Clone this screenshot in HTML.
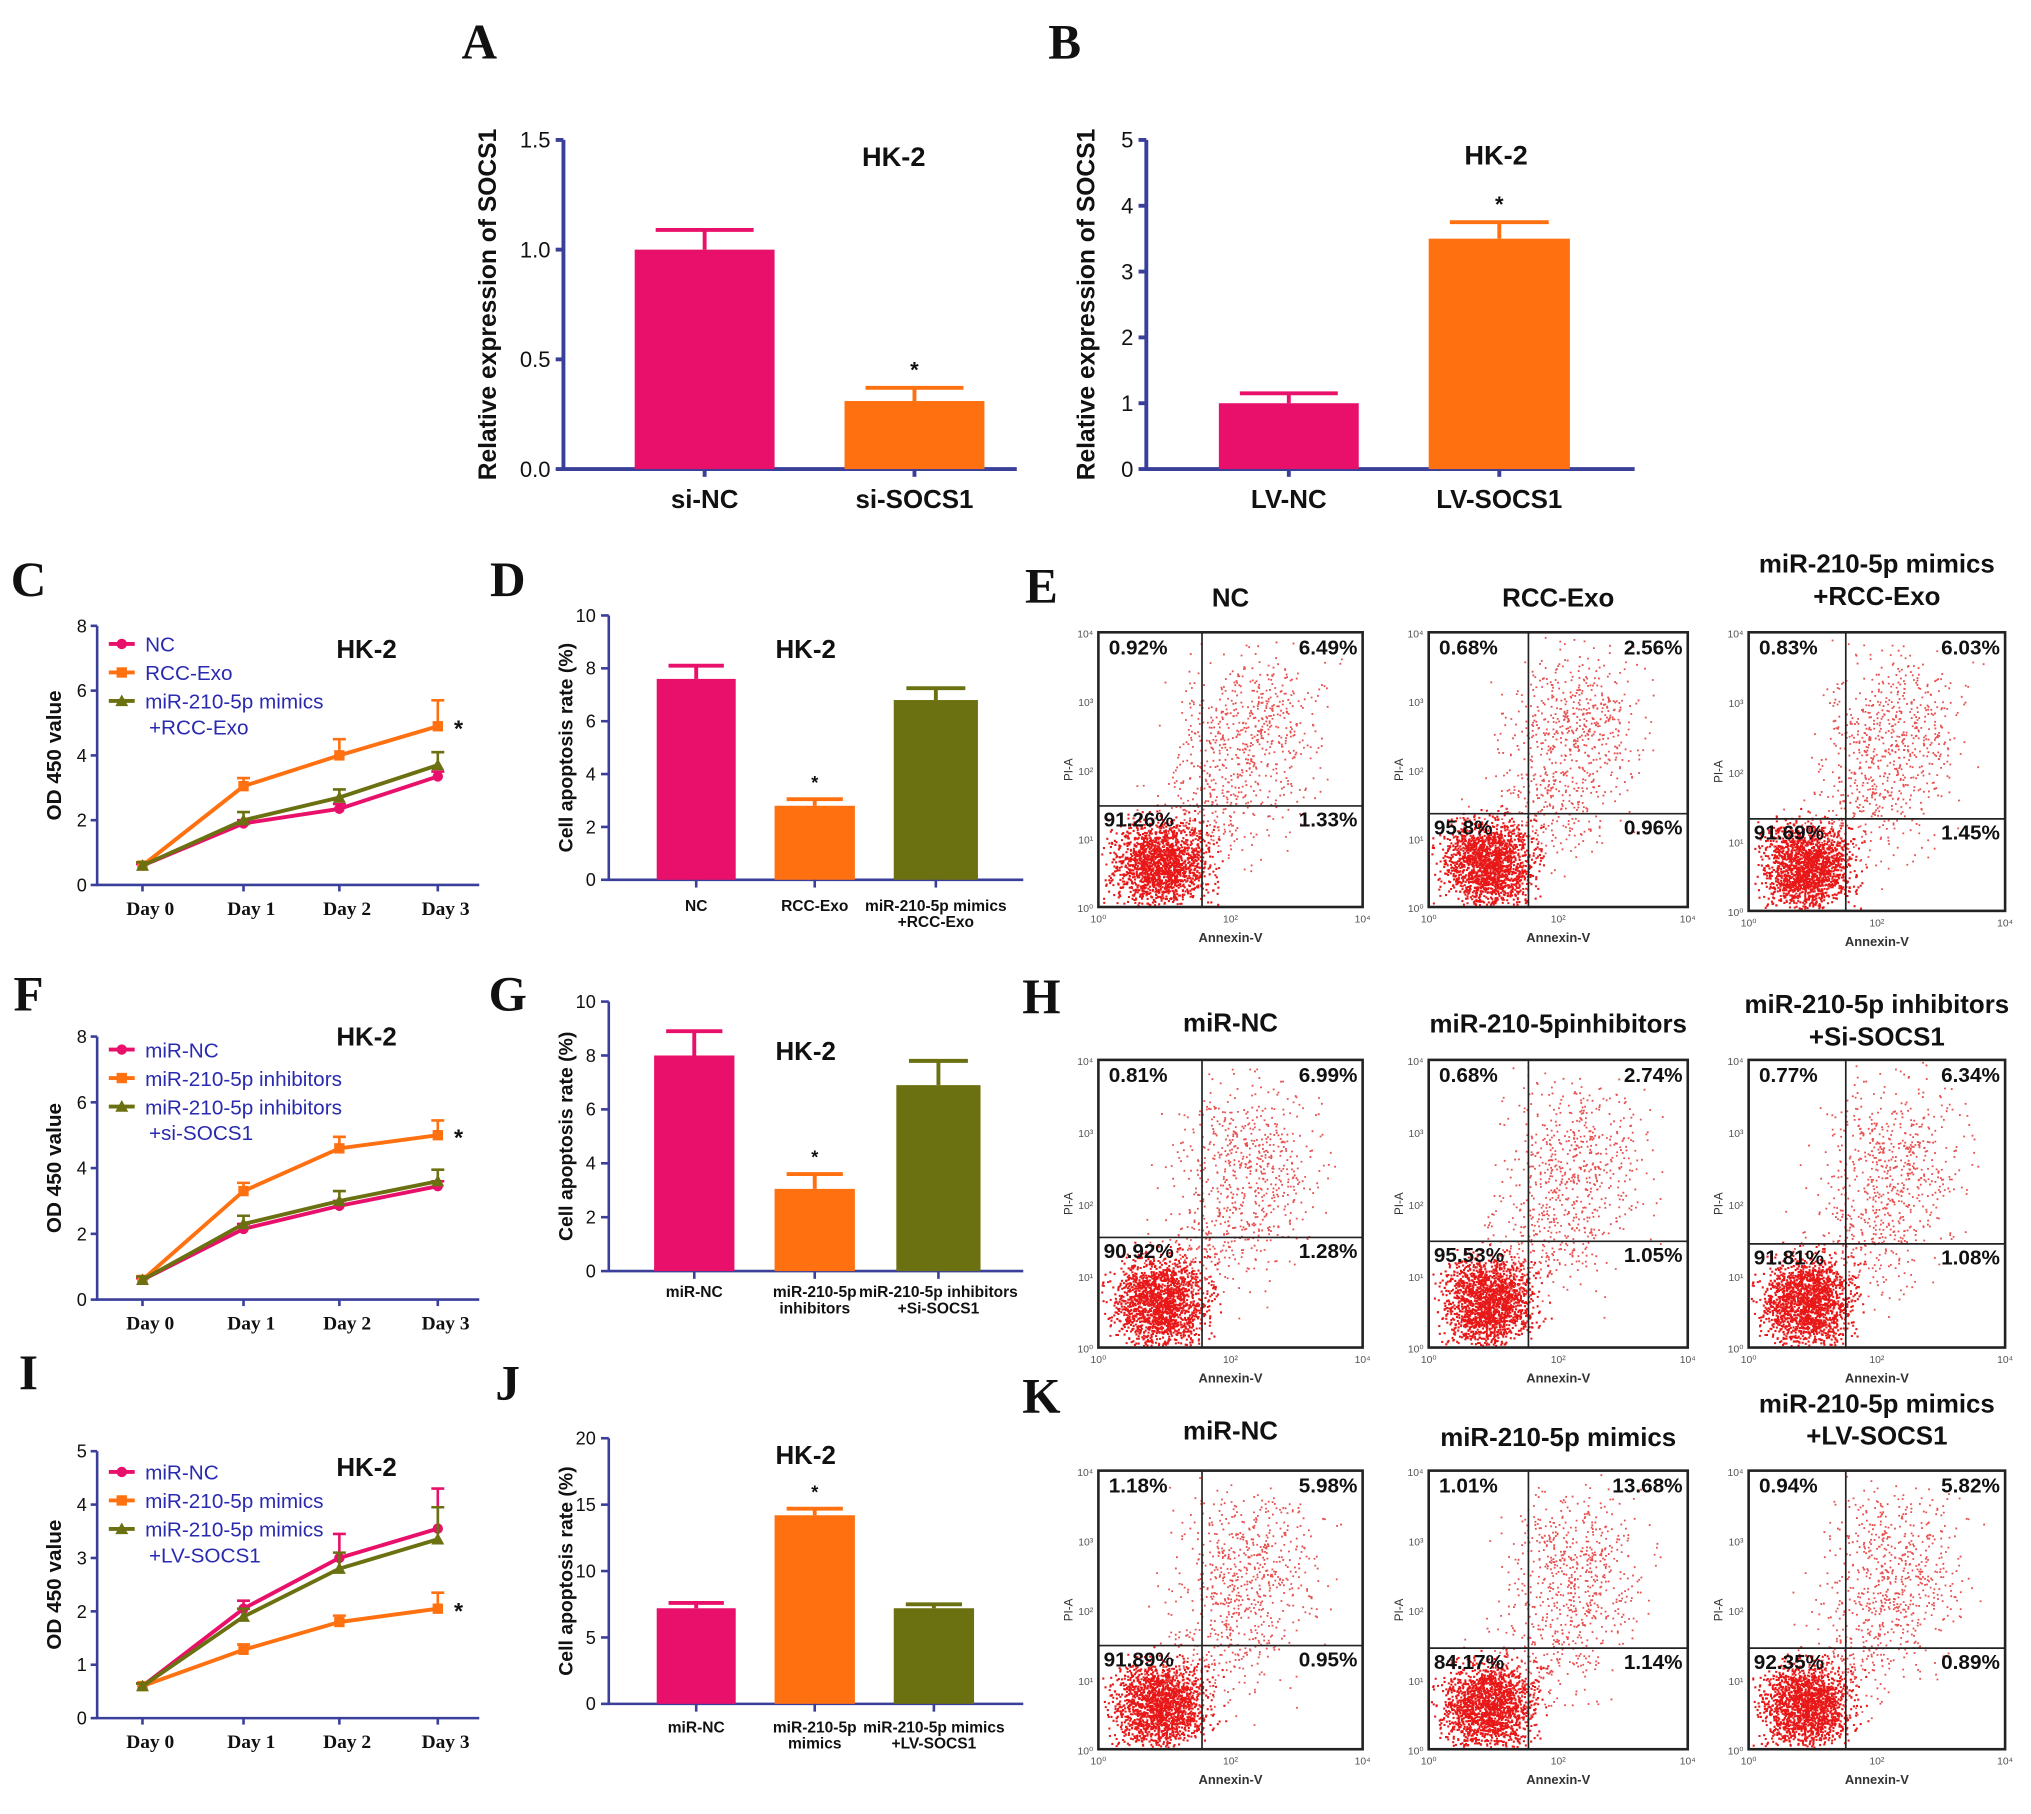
<!DOCTYPE html>
<html><head><meta charset="utf-8"><style>
html,body{margin:0;padding:0;background:#fff}
svg{display:block}
text{font-family:"Liberation Sans",Arial,sans-serif}
.lt{font-family:"Liberation Serif",serif;font-weight:bold}
</style></head><body>
<svg id="fig" xmlns="http://www.w3.org/2000/svg" width="2031" height="1814" viewBox="0 0 1568 1400" preserveAspectRatio="none"></svg>
<script>
// ---- data ----
const aCats=["si-NC","si-SOCS1"], aVals=[1.0,0.31], aErr=[1.09,0.37], aTicks=["0.0","0.5","1.0","1.5"];
const bCats=["LV-NC","LV-SOCS1"], bVals=[1.0,3.5], bErr=[1.15,3.75], bTicks=["0","1","2","3","4","5"];
const days=["Day 0","Day 1","Day 2","Day 3"];
const cNC=[0.6,1.9,2.35,3.35], cRCC=[0.6,3.05,4.0,4.9], cMim=[0.6,2.0,2.7,3.7];
const cNCe=[0.65,2.0,2.5,3.5], cRCCe=[0.7,3.3,4.5,5.7], cMime=[0.7,2.25,2.95,4.1];
const fNC=[0.6,2.15,2.85,3.45], fInh=[0.6,3.3,4.6,5.0], fSi=[0.6,2.3,3.0,3.6];
const fNCe=[0.65,2.3,3.0,3.6], fInhe=[0.7,3.55,4.95,5.45], fSie=[0.7,2.55,3.3,3.95];
const iNC=[0.6,2.05,3.0,3.55], iMim=[0.6,1.28,1.8,2.05], iLV=[0.6,1.9,2.8,3.35];
const iNCe=[0.65,2.2,3.45,4.3], iMime=[0.65,1.38,1.92,2.35], iLVe=[0.65,2.05,3.1,3.95];
const dVals=[7.6,2.8,6.8], dErr=[8.1,3.05,7.25];
const gVals=[8.0,3.05,6.9], gErr=[8.9,3.6,7.8];
const jVals=[7.2,14.2,7.2], jErr=[7.6,14.7,7.5];
const ePct=[["0.92%","6.49%","91.26%","1.33%"],["0.68%","2.56%","95.8%","0.96%"],["0.83%","6.03%","91.69%","1.45%"]];
const hPct=[["0.81%","6.99%","90.92%","1.28%"],["0.68%","2.74%","95.53%","1.05%"],["0.77%","6.34%","91.81%","1.08%"]];
const kPct=[["1.18%","5.98%","91.89%","0.95%"],["1.01%","13.68%","84.17%","1.14%"],["0.94%","5.82%","92.35%","0.89%"]];

const NS="http://www.w3.org/2000/svg", S=document.getElementById('fig');
const MAG="#e8106a", ORA="#ff7010", OLI="#6b7010", AX="#3a3f9a";
function mk(tag,at,p){const e=document.createElementNS(NS,tag);for(const k in at)e.setAttribute(k,at[k]);(p||S).appendChild(e);return e;}
function tx(x,y,s,sz,opt){opt=opt||{};const e=mk('text',{x:x,y:y,'font-size':sz,'text-anchor':opt.a||'middle','font-weight':opt.w||'bold',fill:opt.f||'#111'});if(opt.rot)e.setAttribute('transform','rotate(-90 '+x+' '+y+')');if(opt.cls)e.setAttribute('class',opt.cls);e.textContent=s;return e;}

[["A",370,45],["B",822,45],["C",22,460],["D",392,460],["E",804,465],["F",22,780],["G",392,780],["H",804,782],["I",22,1072],["J",392,1080],["K",804,1090]].forEach(l=>{const e=tx(l[1],l[2],l[0],38,{cls:'lt'});});

function barChart(id,cats,vals,errs,ticks,max,x0,x1,yTop,yBot,bars,cols,title,tpos,ylab,opt){
  const g=mk('g',{});
  const y=v=>yBot-(v/max)*(yBot-yTop);
  const sw=opt.sw||3;
  const ax=mk('path',{d:`M${x0} ${yTop}V${yBot}H${x1}`,stroke:AX,'stroke-width':sw,fill:'none'},g);
  ticks.forEach((t,i)=>{const v=i*max/(ticks.length-1);mk('line',{x1:x0-6,x2:x0,y1:y(v),y2:y(v),stroke:AX,'stroke-width':sw},g);
    const e=tx(x0-10,y(v)+opt.tf*0.35,t,opt.tf,{a:'end',w:'normal'});g.appendChild(e);});
  vals.forEach((v,i)=>{const b=bars[i];const cx=(b[0]+b[1])/2;
    const r=mk('rect',{x:b[0],y:y(v),width:b[1]-b[0],height:yBot-y(v),fill:cols[i]},g);
    const w=(b[1]-b[0])*0.35;
    const er=mk('path',{d:`M${cx} ${y(v)}V${y(errs[i])}M${cx-w} ${y(errs[i])}H${cx+w}`,stroke:cols[i],'stroke-width':3,fill:'none'},g);
    mk('line',{x1:cx,x2:cx,y1:yBot,y2:yBot+6,stroke:AX,'stroke-width':sw},g);
    const lines=cats[i].split('\n');lines.forEach((ln,k)=>{const e=tx(cx,yBot+opt.lo+k*opt.lf*1.05,ln,opt.lf,{});g.appendChild(e);});
    if(opt.star&&opt.star.includes(i)){const e=tx(cx,y(errs[i])-8,'*',opt.tf,{});g.appendChild(e);}
  });
  const t=tx(tpos[0],tpos[1],title,opt.tt,{});g.appendChild(t);
  const yl=tx(x0-opt.yo,(yTop+yBot)/2,ylab,opt.yf,{rot:1});g.appendChild(yl);
}
barChart('a',aCats,aVals,aErr,aTicks,1.5,435,785,108,362,[[490,598],[652,760]],[MAG,ORA],'HK-2',[690,128],'Relative expression of SOCS1',{tf:17,lf:20,lo:30,tt:21,yo:52,yf:19,star:[1]});
barChart('b',bCats,bVals,bErr,bTicks,5,885,1262,108,362,[[941,1049],[1103,1212]],[MAG,ORA],'HK-2',[1155,127],'Relative expression of SOCS1',{tf:17,lf:20,lo:30,tt:21,yo:40,yf:19,star:[1]});
barChart('d',["NC","RCC-Exo","miR-210-5p mimics\n+RCC-Exo"],dVals,dErr,["0","2","4","6","8","10"],10,470,790,475,679,[[507,568],[598,660],[690,755]],[MAG,ORA,OLI],'HK-2',[622,508],'Cell apoptosis rate (%)',{tf:14,lf:12,lo:24,tt:20,yo:28,yf:15,star:[1],sw:2});
barChart('g',["miR-NC","miR-210-5p\ninhibitors","miR-210-5p inhibitors\n+Si-SOCS1"],gVals,gErr,["0","2","4","6","8","10"],10,470,790,773,981,[[505,567],[598,660],[692,757]],[MAG,ORA,OLI],'HK-2',[622,818],'Cell apoptosis rate (%)',{tf:14,lf:12,lo:20,tt:20,yo:28,yf:15,star:[1],sw:2});
barChart('j',["miR-NC","miR-210-5p\nmimics","miR-210-5p mimics\n+LV-SOCS1"],jVals,jErr,["0","5","10","15","20"],20,470,790,1110,1315,[[507,568],[598,660],[690,752]],[MAG,ORA,OLI],'HK-2',[622,1130],'Cell apoptosis rate (%)',{tf:14,lf:12,lo:22,tt:20,yo:28,yf:15,star:[1],sw:2});

function lineChart(id,series,errs,names,cols,mkr,max,ticks,yTop,yBot,legY,titleY){
  const g=mk('g',{});
  const x0=75,x1=370,xs=[110,188,262,338];
  const y=v=>yBot-(v/max)*(yBot-yTop);
  const ax=mk('path',{d:`M${x0} ${yTop}V${yBot}H${x1}`,stroke:AX,'stroke-width':2,fill:'none'},g);
  ticks.forEach((t,i)=>{const v=i*max/(ticks.length-1);mk('line',{x1:x0-5,x2:x0,y1:y(v),y2:y(v),stroke:AX,'stroke-width':2},g);const e=tx(x0-8,y(v)+5,t,14,{a:'end',w:'normal'});g.appendChild(e);});
  days.forEach((d,i)=>{mk('line',{x1:xs[i],x2:xs[i],y1:yBot,y2:yBot+5,stroke:AX,'stroke-width':2},g);const e=tx(xs[i]+6,yBot+23,d,15,{cls:'lt'});g.appendChild(e);});
  series.forEach((s,k)=>{
    const p=mk('polyline',{points:s.map((v,i)=>xs[i]+','+y(v)).join(' '),stroke:cols[k],'stroke-width':3,fill:'none'},g);
    s.forEach((v,i)=>{const ex=mk('path',{d:`M${xs[i]} ${y(v)}V${y(errs[k][i])}M${xs[i]-5} ${y(errs[k][i])}H${xs[i]+5}`,stroke:cols[k],'stroke-width':2,fill:'none'},g);
      let m;if(mkr[k]=='c')m=mk('circle',{cx:xs[i],cy:y(v),r:4,fill:cols[k]},g);else if(mkr[k]=='s')m=mk('rect',{x:xs[i]-4,y:y(v)-4,width:8,height:8,fill:cols[k]},g);else m=mk('path',{d:`M${xs[i]-5} ${y(v)+4}L${xs[i]} ${y(v)-5}L${xs[i]+5} ${y(v)+4}Z`,fill:cols[k]},g);
      });
  });
  let ly=legY;names.forEach((n,k)=>{const lines=n.split('\n');mk('line',{x1:84,x2:104,y1:ly,y2:ly,stroke:cols[k],'stroke-width':3},g);
    let m;if(mkr[k]=='c')m=mk('circle',{cx:94,cy:ly,r:4,fill:cols[k]},g);else if(mkr[k]=='s')m=mk('rect',{x:90,y:ly-4,width:8,height:8,fill:cols[k]},g);else m=mk('path',{d:`M89 ${ly+4}L94 ${ly-5}L99 ${ly+4}Z`,fill:cols[k]},g);
    
    lines.forEach((ln,j)=>{const e=tx(112+(j?3:0),ly+6+j*20,ln,16,{a:'start',w:'normal',f:'#2a2ab0'});g.appendChild(e);});
    ly+=22*lines.length;});
  const st=tx(354,y(series[1][3])+8,'*',18,{});g.appendChild(st);
  const t=tx(283,titleY,'HK-2',20,{});g.appendChild(t);
  const yl=tx(47,(yTop+yBot)/2,'OD 450 value',16,{rot:1});g.appendChild(yl);
}
lineChart('c',[cNC,cRCC,cMim],[cNCe,cRCCe,cMime],["NC","RCC-Exo","miR-210-5p mimics\n+RCC-Exo"],[MAG,ORA,OLI],['c','s','t'],8,["0","2","4","6","8"],483,683,497,508);
lineChart('f',[fNC,fInh,fSi],[fNCe,fInhe,fSie],["miR-NC","miR-210-5p inhibitors","miR-210-5p inhibitors\n+si-SOCS1"],[MAG,ORA,OLI],['c','s','t'],8,["0","2","4","6","8"],800,1003,810,807);
lineChart('i',[iNC,iMim,iLV],[iNCe,iMime,iLVe],["miR-NC","miR-210-5p mimics","miR-210-5p mimics\n+LV-SOCS1"],[MAG,ORA,OLI],['c','s','t'],5,["0","1","2","3","4","5"],1120,1326,1136,1139);

// flow cytometry scatter (decorative dots, seeded)
let seed=12345;function rnd(){seed=(seed*1103515245+12345)%2147483648;return seed/2147483648;}
function gauss(){return (rnd()+rnd()+rnd()-1.5)/0.5;}
function flow(id,x0,y0,w,h,qx,qy,pct,title,titleY){
  const g=mk('g',{});
  const lq=qx-x0;
  let d1='',d2='';
  const inb=(x,y)=>x>x0+1&&x<x0+w-2&&y>y0+1&&y<y0+h-2;
  for(let i=0;i<1700;i++){const x=x0+lq*0.6+gauss()*lq*0.22, y=y0+h*0.84+gauss()*h*0.075;if(inb(x,y))d1+=`M${x.toFixed(1)} ${y.toFixed(1)}h1.6v1.6h-1.6z`;}
  for(let i=0;i<550;i++){const x=x0+w*0.57+gauss()*w*0.13, y=y0+h*0.36+gauss()*h*0.14;if(inb(x,y))d2+=`M${x.toFixed(1)} ${y.toFixed(1)}h1.4v1.4h-1.4z`;}
  for(let i=0;i<200;i++){const x=x0+w*0.45+gauss()*w*0.12, y=y0+h*0.65+gauss()*h*0.1;if(inb(x,y))d2+=`M${x.toFixed(1)} ${y.toFixed(1)}h1.4v1.4h-1.4z`;}
  const dp=mk('path',{d:d1,fill:'#e81818'},g);
  const dp2=mk('path',{d:d2,fill:'#e85050'},g);
  const b=mk('rect',{x:x0,y:y0,width:w,height:h,fill:'none',stroke:'#222','stroke-width':2},g);
  const q=mk('path',{d:`M${qx} ${y0}V${y0+h}M${x0} ${qy}H${x0+w}`,stroke:'#222','stroke-width':1.3},g);
  const pos=[[x0+8,y0+17,'start'],[x0+w-4,y0+17,'end'],[x0+4,qy+16,'start'],[x0+w-4,qy+16,'end']];
  pct.forEach((p,i)=>{const e=tx(pos[i][0],pos[i][1],p,16,{a:pos[i][2]});g.appendChild(e);});
  ["10⁰","10²","10⁴"].forEach((t,i)=>{const e=tx(x0+i*w/2,y0+h+12,t,8,{w:'normal',f:'#555'});g.appendChild(e);});
  ["10⁴","10³","10²","10¹","10⁰"].forEach((t,i)=>{const e=tx(x0-4,y0+4+i*h/4,t,8,{a:'end',w:'normal',f:'#555'});g.appendChild(e);});
  const xl=tx(x0+w/2,y0+h+27,'Annexin-V',10,{f:'#333'});g.appendChild(xl);
  const yl=tx(x0-20,y0+h/2,'PI-A',9,{rot:1,w:'normal',f:'#333'});g.appendChild(yl);
  title.split('\n').forEach((ln,k)=>{const e=tx(x0+w/2,titleY+k*25,ln,20,{});g.appendChild(e);});
}
flow('e1',848,488,204,212,928,622,ePct[0],'NC',468);
flow('e2',1103,488,200,212,1180,628,ePct[1],'RCC-Exo',468);
flow('e3',1350,488,198,215,1425,632,ePct[2],'miR-210-5p mimics\n+RCC-Exo',442);
flow('h1',848,818,204,222,928,955,hPct[0],'miR-NC',796);
flow('h2',1103,818,200,222,1180,958,hPct[1],'miR-210-5pinhibitors',797);
flow('h3',1350,818,198,222,1425,960,hPct[2],'miR-210-5p inhibitors\n+Si-SOCS1',782);
flow('k1',848,1135,204,215,928,1270,kPct[0],'miR-NC',1111);
flow('k2',1103,1135,200,215,1180,1272,kPct[1],'miR-210-5p  mimics',1116);
flow('k3',1350,1135,198,215,1425,1272,kPct[2],'miR-210-5p mimics\n+LV-SOCS1',1090);
</script>
</body></html>
